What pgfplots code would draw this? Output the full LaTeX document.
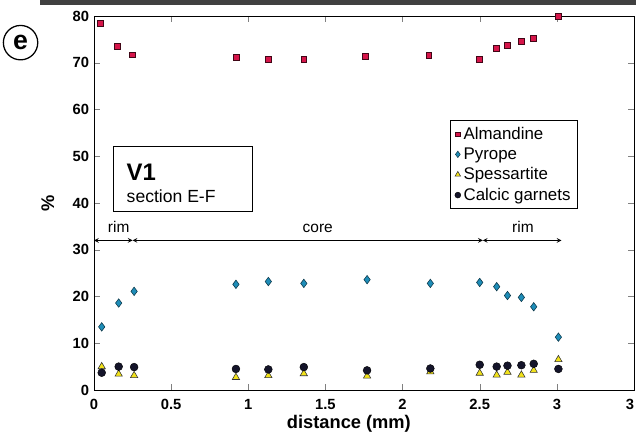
\documentclass[border=0pt]{standalone}
\usepackage{pgfplots}
\pgfplotsset{compat=1.18}
\usepackage{fontspec}
\setmainfont{Liberation Sans}
\definecolor{alm}{HTML}{D6154A}
\definecolor{pyr}{HTML}{1E8DB8}
\definecolor{spe}{HTML}{F2E21A}
\definecolor{cal}{HTML}{14142A}
\begin{document}
\begin{tikzpicture}
\begin{axis}[
  scale only axis,
  width=135mm, height=93.5mm,
  xmin=0, xmax=3.5, ymin=0, ymax=80,
  xtick={0,0.5,1,1.5,2,2.5,3,3.5},
  xticklabels={0,0.5,1,1.5,2,2.5,3,\makebox[0pt][r]{3}},
  ytick={0,10,...,80},
  tick align=inside,
  major tick length=1.6mm,
  /pgf/number format/assume math mode=true,
  ticklabel style={font=\bfseries\fontsize{10.5}{12}\selectfont},
  xticklabel style={yshift=-1mm},
  xlabel={distance (mm)},
  xlabel style={font=\bfseries\fontsize{13}{14}\selectfont, at={(axis description cs:0.472,0)}, anchor=north, yshift=-5.2mm},
  ylabel={\%},
  ylabel style={font=\bfseries\fontsize{13}{14}\selectfont, yshift=2.2mm},
  clip=false,
  axis line style={line width=0.6pt},
  legend style={at={(axis cs:2.309,57.7)}, anchor=north west, font=\fontsize{12}{14}\selectfont,
    draw=black, line width=0.6pt, inner xsep=3pt, inner ysep=2.5pt, row sep=0.4pt,
    cells={anchor=west}},
  legend image post style={scale=0.75},
  legend cell align=left,
]
\addplot[only marks, mark=square*, mark size=2.1pt, mark options={fill=alm, draw=black!70!alm, line width=0.4pt}] coordinates {
(0.04,78.5) (0.15,73.5) (0.25,71.7) (0.92,71.1) (1.13,70.7) (1.36,70.7)
(1.76,71.3) (2.17,71.6) (2.50,70.8) (2.61,73.0) (2.68,73.8) (2.77,74.6)
(2.85,75.3) (3.01,80.0)};
\addlegendentry{Almandine}
\addplot[only marks, mark=diamond*, mark size=3.0pt, mark options={fill=pyr, draw=black!60!pyr, line width=0.4pt}] coordinates {
(0.05,13.5) (0.16,18.6) (0.26,21.1) (0.92,22.6) (1.13,23.2) (1.36,22.8)
(1.77,23.6) (2.18,22.8) (2.50,23.0) (2.61,22.1) (2.68,20.2) (2.77,19.8)
(2.85,17.8) (3.01,11.3)};
\addlegendentry{Pyrope}
\addplot[only marks, mark=triangle*, mark size=3.0pt, mark options={fill=spe, draw=black!80, line width=0.4pt}] coordinates {
(0.05,5.0) (0.16,3.4) (0.26,3.1) (0.92,2.7) (1.13,3.1) (1.36,3.5)
(1.77,3.0) (2.18,3.9) (2.50,3.6) (2.61,3.2) (2.68,3.8) (2.77,3.2)
(2.85,4.2) (3.01,6.5)};
\addlegendentry{Spessartite}
\addplot[only marks, mark=*, mark size=2.8pt, mark options={fill=cal, draw=black, line width=0.3pt}] coordinates {
(0.05,3.7) (0.16,5.0) (0.26,4.9) (0.92,4.5) (1.13,4.4) (1.36,4.9)
(1.77,4.2) (2.18,4.6) (2.50,5.4) (2.61,5.0) (2.68,5.2) (2.77,5.3)
(2.85,5.6) (3.01,4.5)};
\addlegendentry{Calcic garnets}
% rim / core annotation
\draw[<->, >=stealth, line width=0.5pt] (axis cs:0,32) -- (axis cs:0.25,32);
\draw[<->, >=stealth, line width=0.5pt] (axis cs:0.25,32) -- (axis cs:2.52,32);
\draw[<->, >=stealth, line width=0.5pt] (axis cs:2.52,32) -- (axis cs:3.03,32);
\node[font=\fontsize{11}{12}\selectfont, anchor=base] at (axis cs:0.16,33.6) {rim};
\node[font=\fontsize{11}{12}\selectfont, anchor=base] at (axis cs:1.45,33.6) {core};
\node[font=\fontsize{11}{12}\selectfont, anchor=base] at (axis cs:2.78,33.6) {rim};
% sample box
\draw[line width=0.6pt] (axis cs:0.123,52.1) rectangle (axis cs:1.029,38.1);
\node[font=\bfseries\fontsize{17}{18}\selectfont, anchor=base west] at (axis cs:0.18,44.9) {V1};
\node[font=\fontsize{12.5}{14}\selectfont, anchor=base west] at (axis cs:0.18,40.0) {section E-F};
% panel letter
\node[draw, circle, line width=0.9pt, minimum size=8.6mm, inner sep=0pt, font=\bfseries\fontsize{19}{20}\selectfont]
  at (axis cs:-0.476,74.3) {e};
\coordinate (bl) at (rel axis cs:0,0);
\coordinate (tr) at (rel axis cs:1,1);
\end{axis}
\fill[black!75] ([shift={(-13.5mm,4mm)}]bl |- tr) rectangle ([shift={(0.5mm,2.8mm)}]tr);
\pgfresetboundingbox
\path[use as bounding box] ([shift={(-23.5mm,-11.25mm)}]bl) rectangle ([shift={(0.5mm,4mm)}]tr);
\end{tikzpicture}
\end{document}
